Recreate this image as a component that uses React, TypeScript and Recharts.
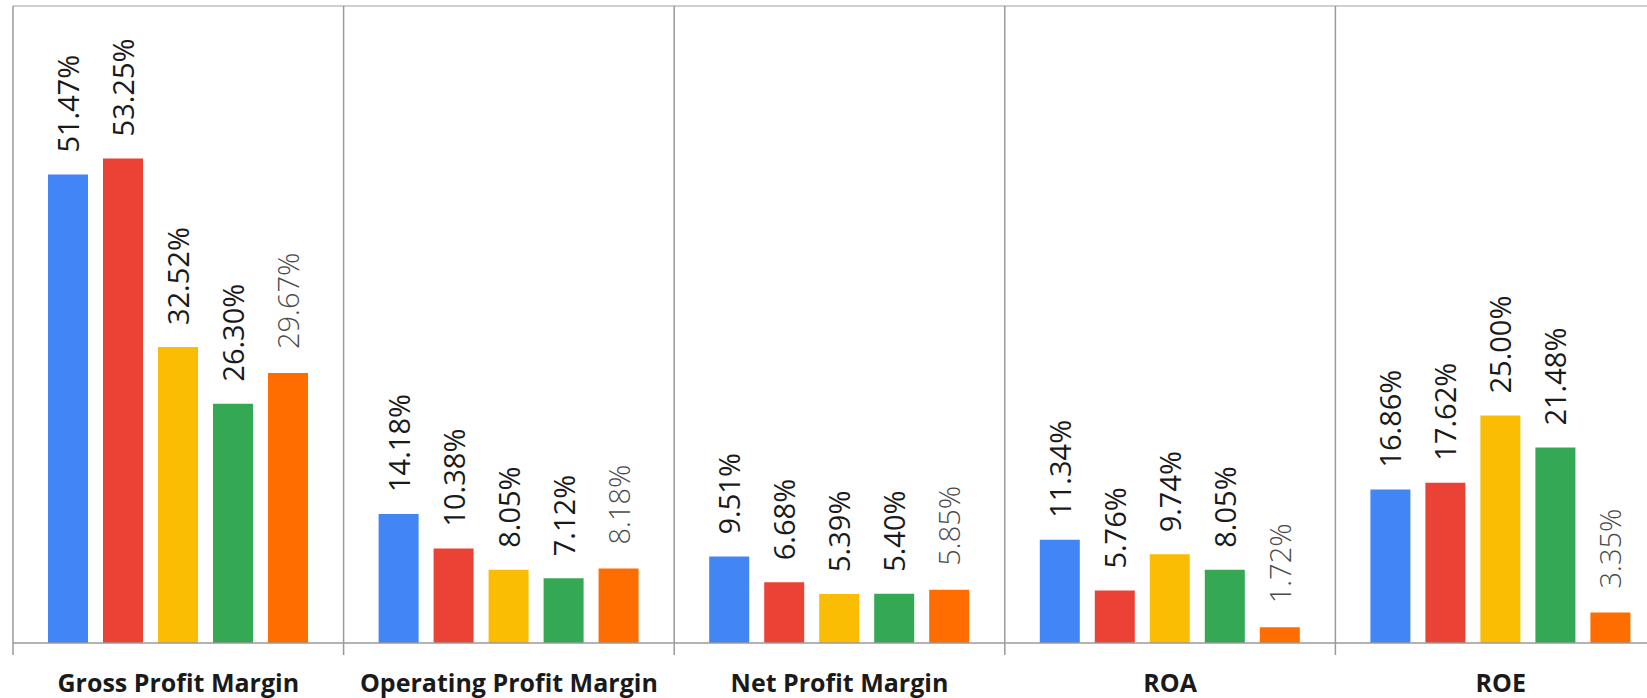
import React from 'react';
import { BarChart, Bar, XAxis, YAxis, CartesianGrid, LabelList } from 'recharts';

const categories = ['Gross Profit Margin', 'Operating Profit Margin', 'Net Profit Margin', 'ROA', 'ROE'];
const seriesBlue = [51.47, 14.18, 9.51, 11.34, 16.86];
const seriesRed = [53.25, 10.38, 6.68, 5.76, 17.62];
const seriesYellow = [32.52, 8.05, 5.39, 9.74, 25.0];
const seriesGreen = [26.3, 7.12, 5.4, 8.05, 21.48];
const seriesOrange = [29.67, 8.18, 5.85, 1.72, 3.35];

const data = categories.map((name, i) => ({
  name,
  s1: seriesBlue[i],
  s2: seriesRed[i],
  s3: seriesYellow[i],
  s4: seriesGreen[i],
  s5: seriesOrange[i],
}));

const FONT = "'Open Sans', 'DejaVu Sans', sans-serif";
const LINE = '#9a9a9a';

const makeLabel = (fill: string, weight: number, gap: number) => (props: any) => {
  const { x, y, width, value } = props;
  const px = Number(x) + Number(width) / 2 + 11;
  const py = Number(y) - gap;
  return (
    <text
      x={px}
      y={py}
      transform={`rotate(-90 ${px} ${py})`}
      fontSize={29}
      fontFamily={FONT}
      fontWeight={weight}
      fill={fill}
      textAnchor="start"
    >
      {Number(value).toFixed(2)}%
    </text>
  );
};

const CatTick = (props: any) => {
  const { x, y, payload, index, visibleTicksCount } = props;
  const half = Number(payload?.offset ?? 0);
  const cx = Number(x);
  const cy = Number(y);
  const isLast = index === (visibleTicksCount ?? categories.length) - 1;
  return (
    <g>
      <line x1={cx - half} x2={cx - half} y1={cy} y2={cy + 12} stroke={LINE} strokeWidth={1.5} />
      {isLast && (
        <line x1={cx + half} x2={cx + half} y1={cy} y2={cy + 12} stroke={LINE} strokeWidth={1.5} />
      )}
      <text
        x={cx}
        y={cy + 49}
        textAnchor="middle"
        fontSize={25}
        fontWeight={700}
        fontFamily={FONT}
        fill="#1a1a1a"
      >
        {payload.value}
      </text>
    </g>
  );
};

const series = [
  { key: 's1', color: '#4285F4', label: makeLabel('#1a1a1a', 400, 22) },
  { key: 's2', color: '#EA4335', label: makeLabel('#1a1a1a', 400, 22) },
  { key: 's3', color: '#FBBC04', label: makeLabel('#1a1a1a', 400, 22) },
  { key: 's4', color: '#34A853', label: makeLabel('#1a1a1a', 400, 22) },
  { key: 's5', color: '#FF6D01', label: makeLabel('#4a4a4a', 300, 24) },
];

export default function App() {
  return (
    <div
      style={{
        position: 'absolute',
        left: 0,
        top: 0,
        width: 1647,
        height: 698,
        overflow: 'hidden',
        background: '#ffffff',
      }}
    >
      <BarChart
        width={1680}
        height={698}
        data={data}
        margin={{ top: 6, right: 14, left: 13, bottom: 0 }}
        barCategoryGap={35}
        barGap={15}
      >
        <CartesianGrid
          vertical={false}
          stroke="#cfcfcf"
          strokeWidth={2}
          horizontalCoordinatesGenerator={({ offset }: any) => [offset.top]}
        />
        <CartesianGrid
          horizontal={false}
          stroke={LINE}
          strokeWidth={1.5}
          verticalCoordinatesGenerator={({ offset }: any) =>
            [0, 1, 2, 3, 4, 5].map((i) => offset.left + (i * offset.width) / categories.length)
          }
        />
        <XAxis
          dataKey="name"
          height={55}
          axisLine={{ stroke: LINE, strokeWidth: 1.5 }}
          tickLine={false}
          tickSize={0}
          tickMargin={0}
          tick={<CatTick />}
          interval={0}
        />
        <YAxis hide domain={[0, 70]} />
        {series.map((s) => (
          <Bar key={s.key} dataKey={s.key} fill={s.color} isAnimationActive={false}>
            <LabelList dataKey={s.key} content={s.label} />
          </Bar>
        ))}
      </BarChart>
    </div>
  );
}
